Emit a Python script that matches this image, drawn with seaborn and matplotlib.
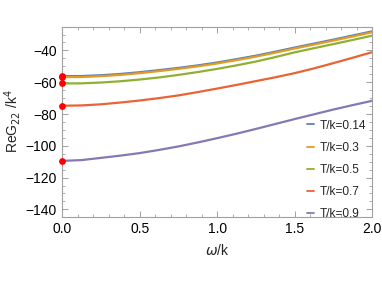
import numpy as np
import pandas as pd
import seaborn as sns
import matplotlib.pyplot as plt
from matplotlib.ticker import MultipleLocator

# omega/k grid and ReG22/k^4 values
omega = [0.0, 0.125, 0.25, 0.375, 0.5, 0.625, 0.75, 0.875, 1.0,
         1.125, 1.25, 1.375, 1.5, 1.625, 1.75, 1.875, 2.0]
g_014 = [-56.2, -56.1, -55.6, -54.8, -53.7, -52.4, -51.0, -49.4, -47.6,
         -45.5, -43.3, -40.8, -38.2, -35.7, -33.2, -30.6, -28.0]
g_03 = [-56.8, -56.7, -56.2, -55.4, -54.3, -53.0, -51.6, -50.0, -48.2,
        -46.1, -43.9, -41.4, -38.8, -36.3, -33.8, -31.2, -28.6]
g_05 = [-60.8, -60.7, -60.2, -59.4, -58.3, -57.0, -55.4, -53.6, -51.6,
        -49.4, -47.0, -44.2, -41.2, -38.6, -36.0, -33.4, -30.7]
g_07 = [-74.8, -74.6, -73.9, -72.8, -71.5, -70.0, -68.3, -66.2, -64.0,
        -61.7, -59.3, -56.9, -54.3, -51.3, -48.0, -44.6, -41.1]
g_09 = [-109.5, -109.0, -107.6, -106.2, -104.6, -102.6, -100.4, -97.9, -95.2,
        -92.4, -89.4, -86.3, -83.2, -80.2, -77.2, -74.4, -71.7]

labels = ["T/k=0.14", "T/k=0.3", "T/k=0.5", "T/k=0.7", "T/k=0.9"]
series = [g_014, g_03, g_05, g_07, g_09]
colors = ["#5E81B5", "#E19C24", "#8FB032", "#EB6235", "#8778B3"]

df = pd.concat(
    [pd.DataFrame({"omega": omega, "G": s, "T": lab}) for s, lab in zip(series, labels)],
    ignore_index=True,
)
start = df[df["omega"] == 0.0]

sns.set_style("white")
plt.rcParams["font.family"] = ["Liberation Sans", "DejaVu Sans"]

fig, ax = plt.subplots(figsize=(3.82, 2.86), dpi=100)
fig.subplots_adjust(left=0.163, right=0.974, top=0.907, bottom=0.243)

sns.lineplot(data=df, x="omega", y="G", hue="T", palette=colors, ax=ax, lw=1.6)
sns.scatterplot(data=start, x="omega", y="G", color="red", s=24, marker="o",
                ax=ax, zorder=5, linewidth=0, legend=False, clip_on=False)

ax.set_xlim(0, 2)
ax.set_ylim(-144.5, -25)
ax.xaxis.set_major_locator(MultipleLocator(0.5))
ax.xaxis.set_minor_locator(MultipleLocator(0.1))
ax.yaxis.set_major_locator(MultipleLocator(20))
ax.yaxis.set_minor_locator(MultipleLocator(5))
ax.xaxis.set_major_formatter(plt.FuncFormatter(lambda v, p: f"{v:.1f}"))
ax.yaxis.set_major_formatter(plt.FuncFormatter(lambda v, p: f"\u2212{abs(v):.0f}" if v < 0 else f"{v:.0f}"))

for sp in ax.spines.values():
    sp.set_color("#A0A0A0")
    sp.set_linewidth(0.8)
ax.tick_params(which="both", direction="in", colors="#A0A0A0", labelcolor="black",
               bottom=True, left=True, top=True, right=True, labelsize=10, pad=4)
ax.tick_params(which="major", length=4, width=0.7)
ax.tick_params(which="minor", length=2, width=0.6)

ax.set_xlabel(r"$\omega$/k", fontsize=10, labelpad=5)
ax.set_ylabel(r"ReG$_{22}$ /k$^4$", fontsize=10, labelpad=2)

leg = ax.legend(title=None, frameon=False, loc="lower right", fontsize=8.6,
                handlelength=0.6, handletextpad=0.45, labelspacing=0.85,
                borderaxespad=0.0, bbox_to_anchor=(0.995, -0.045))
for ln in leg.get_lines():
    ln.set_linewidth(1.3)

fig.savefig("out.png", dpi=100)
